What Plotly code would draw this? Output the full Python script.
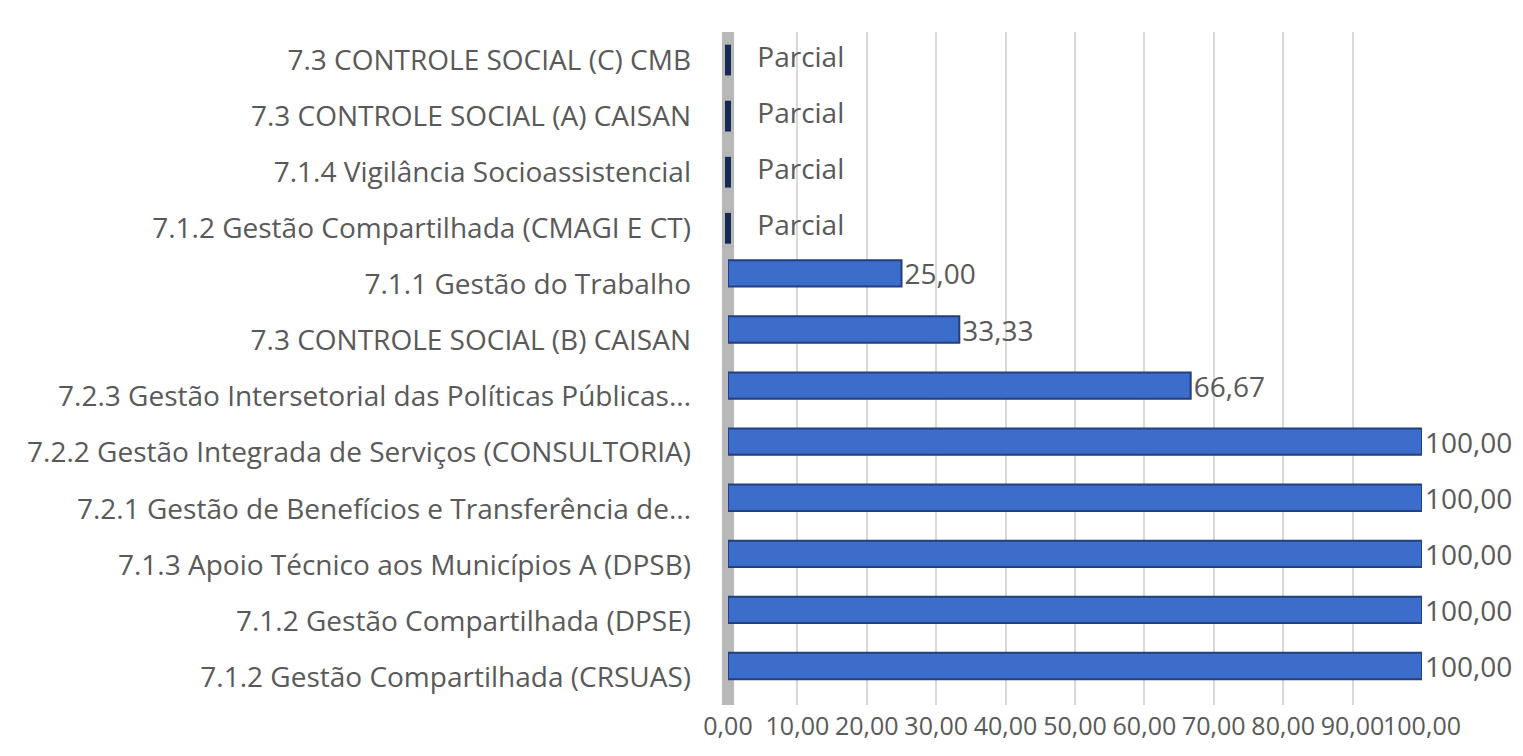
import plotly.graph_objects as go

# Categories listed bottom -> top (as drawn on the y axis)
categories = [
    "7.1.2 Gestão Compartilhada (CRSUAS)",
    "7.1.2 Gestão Compartilhada (DPSE)",
    "7.1.3 Apoio Técnico aos Municípios A (DPSB)",
    "7.2.1 Gestão de Benefícios e Transferência de...",
    "7.2.2 Gestão Integrada de Serviços (CONSULTORIA)",
    "7.2.3 Gestão Intersetorial das Políticas Públicas...",
    "7.3 CONTROLE SOCIAL (B) CAISAN",
    "7.1.1 Gestão do Trabalho",
    "7.1.2 Gestão Compartilhada (CMAGI E CT)",
    "7.1.4 Vigilância Socioassistencial",
    "7.3 CONTROLE SOCIAL (A) CAISAN",
    "7.3 CONTROLE SOCIAL (C) CMB",
]
values = [100.00, 100.00, 100.00, 100.00, 100.00, 66.67, 33.33, 25.00, 0, 0, 0, 0]
status = ["", "", "", "", "", "", "", "", "Parcial", "Parcial", "Parcial", "Parcial"]
x_ticks = [0, 10, 20, 30, 40, 50, 60, 70, 80, 90, 100]

num_cat = [c for c, s in zip(categories, status) if s == ""]
num_val = [v for v, s in zip(values, status) if s == ""]
par_cat = [c for c, s in zip(categories, status) if s != ""]
par_val = [v for v, s in zip(values, status) if s != ""]
par_txt = [s for s in status if s != ""]

TXT = "#595959"
FONT = "Open Sans"

fig = go.Figure()

fig.add_trace(go.Bar(
    x=num_val, y=num_cat, orientation="h",
    width=0.47, offset=-0.04,
    marker=dict(color="#3d6dca", line=dict(color="#243f7d", width=2)),
    texttemplate="%{x:.2f}", textposition="outside", constraintext="none",
    textfont=dict(family=FONT, size=28, color=TXT),
    cliponaxis=False, showlegend=False,
))

fig.add_trace(go.Scatter(
    x=par_val, y=par_cat, mode="markers+text",
    marker=dict(symbol="line-ns", size=22, line=dict(color="#172a55", width=6)),
    text=["  " + t for t in par_txt], textposition="middle right",
    textfont=dict(family=FONT, size=28, color=TXT),
    cliponaxis=False, showlegend=False,
))

fig.update_layout(
    width=1507, height=740,
    margin=dict(l=720, r=93, t=24, b=43, autoexpand=False),
    paper_bgcolor="white", plot_bgcolor="white",
    separators=",.",
    font=dict(family=FONT, color=TXT),
    xaxis=dict(
        range=[0, 100], tickvals=x_ticks, tickformat=".2f", tickangle=0,
        showgrid=True, gridcolor="#d9d9d9", gridwidth=2,
        zeroline=True, zerolinecolor="#b8b8b8", zerolinewidth=12,
        showline=False, ticks="", automargin=False,
        tickfont=dict(family=FONT, size=25, color=TXT),
        ticklabelstandoff=4,
    ),
    yaxis=dict(
        categoryorder="array", categoryarray=categories,
        range=[-0.5, len(categories) - 0.5],
        showgrid=False, zeroline=False, showline=False, ticks="",
        automargin=False,
        tickfont=dict(family=FONT, size=28, color=TXT),
        ticklabelstandoff=36,
    ),
)

fig.write_html("out.html")
